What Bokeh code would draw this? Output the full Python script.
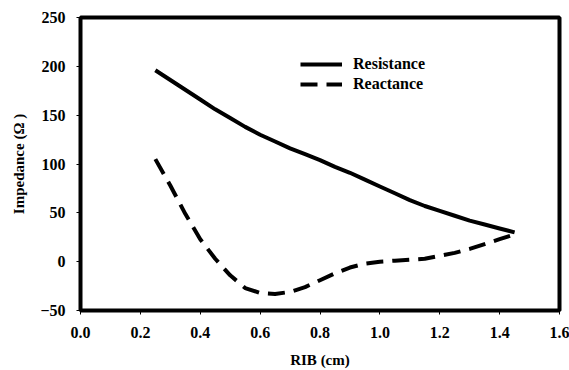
from bokeh.plotting import figure
from bokeh.models import Range1d, FixedTicker, Legend, LegendItem, CustomJSTickFormatter
from bokeh.embed import file_html
from bokeh.resources import INLINE

# Data
rib_cm = [0.25, 0.30, 0.35, 0.40, 0.45, 0.50, 0.55, 0.60, 0.65, 0.70, 0.75, 0.80, 0.85,
          0.90, 0.95, 1.00, 1.05, 1.10, 1.15, 1.20, 1.25, 1.30, 1.35, 1.40, 1.45]
resistance = [196, 186, 176, 166, 156, 147, 138, 130, 123, 116, 110, 104, 97,
              91, 84, 77, 70, 63, 57, 52, 47, 42, 38, 34, 30]
reactance = [105, 78, 49, 23, 3, -14, -27, -32, -33, -31, -26, -19, -12,
             -6, -2, 0, 1, 2, 3, 6, 9, 13, 18, 23, 28]
x_ticks = [0.0, 0.2, 0.4, 0.6, 0.8, 1.0, 1.2, 1.4, 1.6]
y_ticks = [-50, 0, 50, 100, 150, 200, 250]

FONT = "'Liberation Serif', 'Times New Roman', 'DejaVu Serif', serif"

p = figure(width=569, height=370, output_backend="svg", toolbar_location=None,
           x_range=Range1d(0, 1.6), y_range=Range1d(-50, 250),
           min_border_left=80, min_border_right=10, min_border_top=17, min_border_bottom=57)

p.background_fill_color = "white"
p.border_fill_color = "white"
p.outline_line_color = "black"
p.outline_line_width = 4
p.grid.visible = False

r1 = p.line(rib_cm, resistance, line_color="black", line_width=4, line_join="round")
r2 = p.line(rib_cm, reactance, line_color="black", line_width=4, line_dash="17 9",
            line_join="round")

for ax in (p.xaxis[0], p.yaxis[0]):
    ax.axis_line_color = None
    ax.major_tick_line_color = "black"
    ax.major_tick_line_width = 1
    ax.major_tick_out = 4
    ax.major_tick_in = 0
    ax.minor_tick_line_color = None
    ax.major_label_text_font = FONT
    ax.major_label_text_font_style = "bold"
    ax.major_label_text_font_size = "16px"
    ax.major_label_text_color = "black"
    ax.axis_label_text_font = FONT
    ax.axis_label_text_font_style = "bold"
    ax.axis_label_text_color = "black"

p.xaxis.ticker = FixedTicker(ticks=x_ticks)
p.xaxis.formatter = CustomJSTickFormatter(code="return tick.toFixed(1);")
p.xaxis.major_label_standoff = 12
p.xaxis.axis_label = "RIB (cm)"
p.xaxis.axis_label_text_font_size = "15px"
p.xaxis.axis_label_standoff = 11

p.yaxis.ticker = FixedTicker(ticks=y_ticks)
p.yaxis.major_label_standoff = 11
p.yaxis.axis_label = "Impedance (Ω )"
p.yaxis.axis_label_text_font_size = "15px"
p.yaxis.axis_label_standoff = 10

legend = Legend(items=[LegendItem(label="Resistance", renderers=[r1]),
                       LegendItem(label="Reactance", renderers=[r2])],
                location=(220, 216))
legend.border_line_color = None
legend.background_fill_alpha = 0
legend.padding = 0
legend.margin = 0
legend.spacing = 0
legend.glyph_width = 42
legend.glyph_height = 20
legend.label_height = 20
legend.label_standoff = 11
legend.label_text_font = FONT
legend.label_text_font_style = "bold"
legend.label_text_font_size = "16px"
legend.label_text_color = "black"
p.add_layout(legend, "center")

open("out.html", "w").write(file_html(p, INLINE))
